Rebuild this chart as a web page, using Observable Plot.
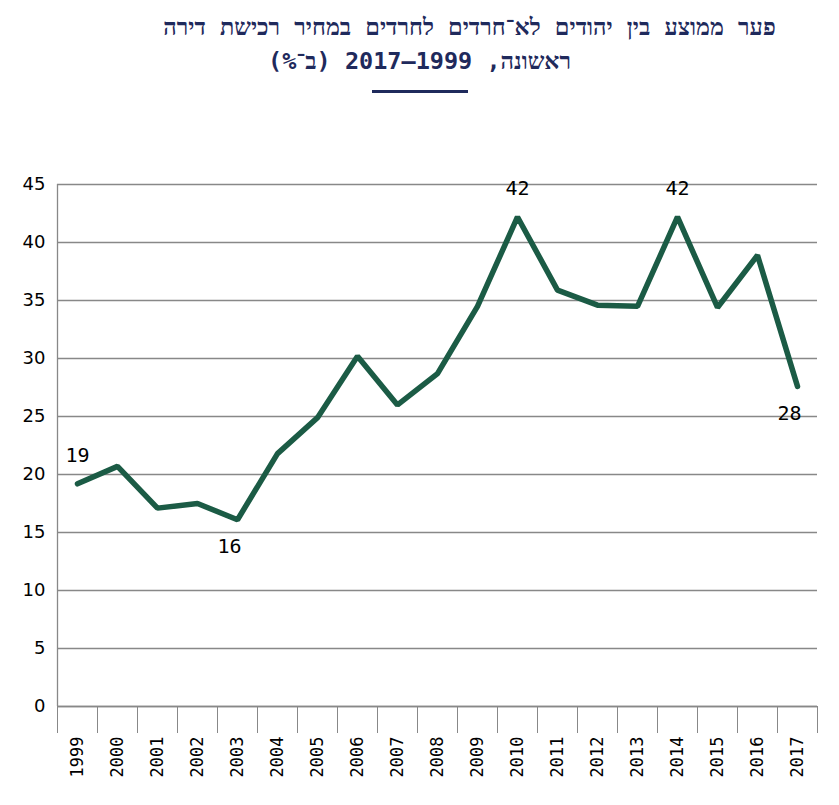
<!DOCTYPE html>
<html><head><meta charset="utf-8">
<script src="https://cdn.jsdelivr.net/npm/d3@7"></script>
<script src="https://cdn.jsdelivr.net/npm/@observablehq/plot@0.6"></script>
<style>
body{margin:0;background:#fff;}
#t{direction:rtl;text-align:center;font-family:"DejaVu Sans Mono",monospace;font-weight:bold;color:#1f2a5c;font-size:23.5px;line-height:34px;padding-top:10px;height:98px;box-sizing:border-box;width:839px;}
#t .l1{padding-left:100px;}
#t .bar{width:96px;height:3px;background:#1f2a5c;margin:12px auto 0;}
</style></head><body>
<div id="t"><div class="l1">פער ממוצע בין יהודים לא־חרדים לחרדים במחיר רכישת דירה</div><div>ראשונה, <span dir="ltr">2017–1999</span> (ב־%)</div><div class="bar"></div></div>
<div id="c"></div>
<script>
const years=[1999,2000,2001,2002,2003,2004,2005,2006,2007,2008,2009,2010,2011,2012,2013,2014,2015,2016,2017];
const gap=[19.2,20.7,17.1,17.5,16.1,21.8,24.9,30.2,26.0,28.7,34.5,42.2,35.9,34.6,34.5,42.2,34.4,38.9,27.6];
const labelYears=[1999,2003,2010,2014,2017];
const labelText=["19","16","42","42","28"];
const labelPos=["top","bottom","top","top","bottom"];
const yTicks=[0,5,10,15,20,25,30,35,40,45];
const data=years.map((y,i)=>({year:y,v:gap[i]}));
const labels=labelYears.map((y,i)=>({year:y,v:gap[years.indexOf(y)],t:labelText[i],pos:labelPos[i]}));
const bounds=[years[0]-0.5,...years.map(y=>y+0.5)];
const chart=Plot.plot({
  width:839,height:707,marginTop:86,marginBottom:99,marginLeft:57,marginRight:22,
  style:{fontFamily:"DejaVu Sans",fontSize:"18px",color:"#000"},
  x:{domain:[years[0]-0.5,years[years.length-1]+0.5]},
  y:{domain:[0,45]},
  marks:[
    Plot.gridY(yTicks,{stroke:"#888",strokeOpacity:1,strokeWidth:1.3}),
    Plot.axisY(yTicks,{tickSize:0,tickPadding:12,label:null,fontSize:18}),
    Plot.ruleX([years[0]-0.5],{stroke:"#888",strokeWidth:1.3}),
    Plot.axisX(bounds,{tickSize:27,tickFormat:()=>"",stroke:"#888",label:null}),
    Plot.axisX(years,{tickSize:0,tickRotate:-90,tickPadding:30,tickFormat:d=>String(d),label:null,fontSize:17,fontFamily:"DejaVu Sans Mono",textAnchor:"end"}),
    Plot.ruleY([0],{stroke:"#888",strokeWidth:1.5}),
    Plot.line(data,{x:"year",y:"v",stroke:"#1b5b45",strokeWidth:5.5,strokeLinejoin:"miter"}),
    Plot.text(labels.filter(d=>d.pos==="top"),{x:"year",y:"v",text:"t",dy:-28,fontFamily:"DejaVu Sans Mono",fontSize:20}),
    Plot.text(labels.filter(d=>d.pos==="bottom"),{x:"year",y:"v",text:"t",dy:27,dx:-8,fontFamily:"DejaVu Sans Mono",fontSize:20})
  ]
});
document.getElementById("c").append(chart);
</script></body></html>
